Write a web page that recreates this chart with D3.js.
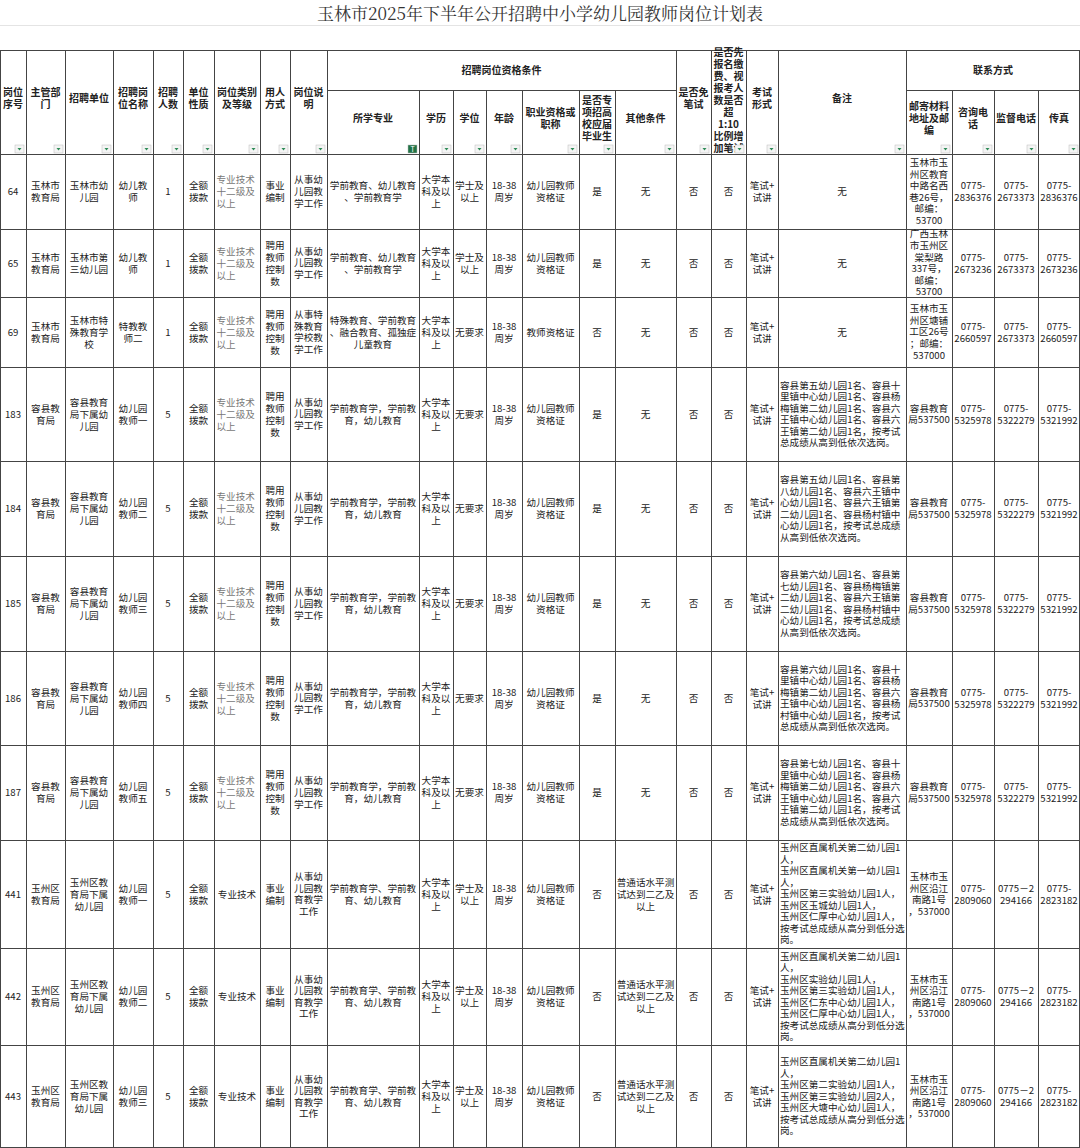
<!DOCTYPE html>
<html><head><meta charset="utf-8">
<script src="https://cdn.jsdelivr.net/npm/d3@7/dist/d3.min.js"></script>
<style>body{margin:0;background:#fff}svg{display:block}</style>
</head><body><svg id="c" width="1080" height="1148"></svg>
<script>
const title = "玉林市2025年下半年公开招聘中小学幼儿园教师岗位计划表";
const headers = ["岗位序号","主管部门","招聘单位","招聘岗位名称","招聘人数","单位性质","岗位类别及等级","用人方式","岗位说明","所学专业","学历","学位","年龄","职业资格或职称","是否专项招高校应届毕业生","其他条件","是否免笔试","是否先报名缴费、视报考人数是否超1:10比例增加笔试","考试形式","备注","邮寄材料地址及邮编","咨询电话","监督电话","传真"];
const groupHeaders = [{label:"招聘岗位资格条件", from:9, to:15},{label:"联系方式", from:20, to:23}];
const ids = ["64","65","69","183","184","185","186","187","441","442","443"];
const depts = ["玉林市教育局","玉林市教育局","玉林市教育局","容县教育局","容县教育局","容县教育局","容县教育局","容县教育局","玉州区教育局","玉州区教育局","玉州区教育局"];
const units = ["玉林市幼儿园","玉林市第三幼儿园","玉林市特殊教育学校","容县教育局下属幼儿园","容县教育局下属幼儿园","容县教育局下属幼儿园","容县教育局下属幼儿园","容县教育局下属幼儿园","玉州区教育局下属幼儿园","玉州区教育局下属幼儿园","玉州区教育局下属幼儿园"];
const posts = ["幼儿教师","幼儿教师","特教教师二","幼儿园教师一","幼儿园教师二","幼儿园教师三","幼儿园教师四","幼儿园教师五","幼儿园教师一","幼儿园教师二","幼儿园教师三"];
const counts = [1,1,1,5,5,5,5,5,5,5,5];
const natures = Array(11).fill("全额拨款");
const categories = ["专业技术十二级及以上","专业技术十二级及以上","专业技术十二级及以上","专业技术十二级及以上","专业技术十二级及以上","专业技术十二级及以上","专业技术十二级及以上","专业技术十二级及以上","专业技术","专业技术","专业技术"];
const hiring = ["事业编制","聘用教师控制数","聘用教师控制数","聘用教师控制数","聘用教师控制数","聘用教师控制数","聘用教师控制数","聘用教师控制数","事业编制","事业编制","事业编制"];
const descs = ["从事幼儿园教学工作","从事幼儿园教学工作","从事特殊教育学校教学工作","从事幼儿园教学工作","从事幼儿园教学工作","从事幼儿园教学工作","从事幼儿园教学工作","从事幼儿园教学工作","从事幼儿园教育教学工作","从事幼儿园教育教学工作","从事幼儿园教育教学工作"];
const majors = ["学前教育、幼儿教育、学前教育学","学前教育、幼儿教育、学前教育学","特殊教育、学前教育、融合教育、孤独症儿童教育","学前教育学，学前教育，幼儿教育","学前教育学，学前教育，幼儿教育","学前教育学，学前教育，幼儿教育","学前教育学，学前教育，幼儿教育","学前教育学，学前教育，幼儿教育","学前教育学、学前教育、幼儿教育","学前教育学、学前教育、幼儿教育","学前教育学、学前教育、幼儿教育"];
const edus = Array(11).fill("大学本科及以上");
const degrees = ["学士及以上","学士及以上","无要求","无要求","无要求","无要求","无要求","无要求","学士及以上","学士及以上","学士及以上"];
const ages = Array(11).fill("18-38周岁");
const certs = ["幼儿园教师资格证","幼儿园教师资格证","教师资格证","幼儿园教师资格证","幼儿园教师资格证","幼儿园教师资格证","幼儿园教师资格证","幼儿园教师资格证","幼儿园教师资格证","幼儿园教师资格证","幼儿园教师资格证"];
const fresh = ["是","是","否","是","是","是","是","是","否","否","否"];
const others = ["无","无","无","无","无","无","无","无","普通话水平测试达到二乙及以上","普通话水平测试达到二乙及以上","普通话水平测试达到二乙及以上"];
const exempt = Array(11).fill("否");
const prepay = Array(11).fill("否");
const exams = Array(11).fill("笔试+试讲");
const remarks = ["无","无","无",
"容县第五幼儿园1名、容县十里镇中心幼儿园1名、容县杨梅镇第二幼儿园1名、容县六王镇中心幼儿园1名、容县六王镇第二幼儿园1名，按考试总成绩从高到低依次选岗。",
"容县第五幼儿园1名、容县第八幼儿园1名、容县六王镇中心幼儿园1名、容县六王镇第二幼儿园1名、容县杨村镇中心幼儿园1名，按考试总成绩从高到低依次选岗。",
"容县第六幼儿园1名、容县第七幼儿园1名、容县杨梅镇第二幼儿园1名、容县六王镇第二幼儿园1名、容县杨村镇中心幼儿园1名，按考试总成绩从高到低依次选岗。",
"容县第六幼儿园1名、容县十里镇中心幼儿园1名、容县杨梅镇第二幼儿园1名、容县六王镇中心幼儿园1名、容县杨村镇中心幼儿园1名，按考试总成绩从高到低依次选岗。",
"容县第七幼儿园1名、容县十里镇中心幼儿园1名、容县杨梅镇第二幼儿园1名、容县六王镇中心幼儿园1名、容县六王镇第二幼儿园1名，按考试总成绩从高到低依次选岗。",
"玉州区直属机关第二幼儿园1人，\n玉州区直属机关第一幼儿园1人，\n玉州区第三实验幼儿园1人，\n玉州区玉城幼儿园1人，\n玉州区仁厚中心幼儿园1人，\n按考试总成绩从高分到低分选岗。",
"玉州区直属机关第二幼儿园1人，\n玉州区实验幼儿园1人，\n玉州区第三实验幼儿园1人，\n玉州区仁东中心幼儿园1人，\n玉州区仁厚中心幼儿园1人，\n按考试总成绩从高分到低分选岗。",
"玉州区直属机关第二幼儿园1人，\n玉州区第二实验幼儿园1人，\n玉州区第三实验幼儿园2人，\n玉州区大塘中心幼儿园1人，\n按考试总成绩从高分到低分选岗。"];
const addresses = ["玉林市玉州区教育中路名西巷26号，邮编：53700","广西玉林市玉州区棠梨路337号，邮编：53700","玉林市玉州区塘铺工区26号；邮编：537000","容县教育局537500","容县教育局537500","容县教育局537500","容县教育局537500","容县教育局537500","玉林市玉州区沿江南路1号，537000","玉林市玉州区沿江南路1号，537000","玉林市玉州区沿江南路1号，537000"];
const phones = ["0775-2836376","0775-2673236","0775-2660597","0775-5325978","0775-5325978","0775-5325978","0775-5325978","0775-5325978","0775-2809060","0775-2809060","0775-2809060"];
const supervise = ["0775-2673373","0775-2673373","0775-2673373","0775-5322279","0775-5322279","0775-5322279","0775-5322279","0775-5322279","0775－2294166","0775－2294166","0775－2294166"];
const faxes = ["0775-2836376","0775-2673236","0775-2660597","0775-5321992","0775-5321992","0775-5321992","0775-5321992","0775-5321992","0775-2823182","0775-2823182","0775-2823182"];

const cols = [ids,depts,units,posts,counts,natures,categories,hiring,descs,majors,edus,degrees,ages,certs,fresh,others,exempt,prepay,exams,remarks,addresses,phones,supervise,faxes];

const xs = [0,26,65,113,153,183,214,260,290,327,419,453,486,522,579,615,676,711,746,778,906,952,994,1038,1080];
const rowY = [154,229,297,367,461,556,651,745,840,948,1045,1148];
const FONT = "'Noto Sans CJK SC','DejaVu Sans',sans-serif";
const svg = d3.select("#c");
const line = "#444";

const meas = svg.append("text").attr("font-family",FONT).attr("font-size",10).attr("x",-999).attr("y",-999);
function tw(s){ meas.text(s); return meas.node().getComputedTextLength(); }
function wrap(str, width, size, weight){
  meas.attr("font-size",size).attr("font-weight",weight||"normal");
  const out=[];
  String(str).split("\n").forEach(par=>{
    let cur="";
    const toks = par.match(/[0-9A-Za-z:+－]+-?|./g)||[];
    toks.forEach(t=>{
      if(tw(cur+t)<=width){ cur+=t; return; }
      if(tw(t)<=width && t.length>1){ if(cur) out.push(cur); cur=t; return; }
      for(const ch of t){
        if(cur && tw(cur+ch)>width){ out.push(cur); cur=ch; } else cur+=ch;
      }
    });
    out.push(cur);
  });
  return out;
}
function cellText(x0,x1,y0,y1,str,opt){
  opt=opt||{};
  const size=opt.size||9.6, lh=opt.lh||12, pad=opt.pad==null?1.5:opt.pad;
  const lines=wrap(str,x1-x0-2*pad,size,opt.weight);
  const h=lines.length*lh;
  const top=(y0+y1)/2-h/2+lh*0.8 - (opt.raise||0);
  const left = opt.align==="left";
  const t=svg.append("text").attr("font-family",FONT).attr("font-size",size)
    .attr("font-weight",opt.weight||"normal").attr("fill",opt.color||"#222")
    .attr("text-anchor",left?"start":"middle");
  t.selectAll("tspan").data(lines).join("tspan")
    .attr("x",left?x0+pad+1:(x0+x1)/2)
    .attr("y",(d,i)=>top+i*lh).text(d=>d);
}

svg.append("text").attr("x",540).attr("y",20).attr("text-anchor","middle")
  .attr("font-family","'Noto Serif CJK SC','Noto Sans CJK SC',serif").attr("font-size",17).attr("fill","#333").text(title);
svg.append("line").attr("x1",0).attr("x2",1080).attr("y1",25.5).attr("y2",25.5).attr("stroke","#e4e4e4");

const H0=50,H1=90,H2=154;
const groupCols = new Set(); groupHeaders.forEach(g=>{for(let i=g.from;i<=g.to;i++)groupCols.add(i);});
svg.append("line").attr("x1",0).attr("x2",1080).attr("y1",H0+0.5).attr("y2",H0+0.5).attr("stroke",line);
groupHeaders.forEach(g=>{
  svg.append("line").attr("x1",xs[g.from]).attr("x2",xs[g.to+1]).attr("y1",H1+0.5).attr("y2",H1+0.5).attr("stroke",line);
  cellText(xs[g.from],xs[g.to+1],H0,H1,g.label,{weight:"bold",size:10});
});
headers.forEach((h,i)=>{
  const y0 = groupCols.has(i)?H1:H0;
  const narrow = i===17;
  cellText(xs[i],xs[i+1],y0,H2,h,narrow?{weight:"bold",size:10,lh:12,pad:2.5,raise:2}:{weight:"bold",size:10,lh:12,raise:4});
  const bx=xs[i+1]-11, by=H2-9;
  svg.append("rect").attr("x",bx).attr("y",by).attr("width",9).attr("height",8).attr("fill",i===9?"#217346":"#f4f4f4").attr("stroke","#bbb").attr("stroke-width",0.5);
  if(i===9){
    svg.append("text").attr("x",bx+4.5).attr("y",by+7).attr("text-anchor","middle").attr("font-size",7).attr("fill","#fff").attr("font-family",FONT).text("T");
  } else {
    svg.append("path").attr("d",`M${bx+2.5},${by+3}L${bx+6.5},${by+3}L${bx+4.5},${by+5.5}Z`).attr("fill","#2e8b57");
  }
});
xs.forEach((x,i)=>{
  let y0 = H0;
  if(groupCols.has(i) && groupCols.has(i-1)) y0=H1;
  if(i>=21 && i<=23) y0=H1;
  const xx = Math.min(x+0.5,1079.5);
  svg.append("line").attr("x1",xx).attr("x2",xx).attr("y1",y0).attr("y2",1148).attr("stroke",line);
});

const y = d3.scaleOrdinal().domain(ids).range(rowY.slice(0,-1));
ids.forEach((id,r)=>{
  const y0=y(id), y1=rowY[r+1];
  svg.append("line").attr("x1",0).attr("x2",1080).attr("y1",y0+0.5).attr("y2",y0+0.5).attr("stroke",line);
  cols.forEach((col,c)=>{
    const v=col[r];
    const opt={size:9.6,lh:12};
    if(c===6 && v.length>4){opt.align="left";opt.color="#777";}
    if(c===19 && v!=="无"){opt.align="left";opt.lh=11.5;opt.pad=1;}
    if(c===8||c===20) opt.lh=11.6;
    cellText(xs[c],xs[c+1],y0,y1,v,opt);
  });
});
svg.append("line").attr("x1",0).attr("x2",1080).attr("y1",1147.5).attr("y2",1147.5).attr("stroke",line);
meas.remove();
</script></body></html>
